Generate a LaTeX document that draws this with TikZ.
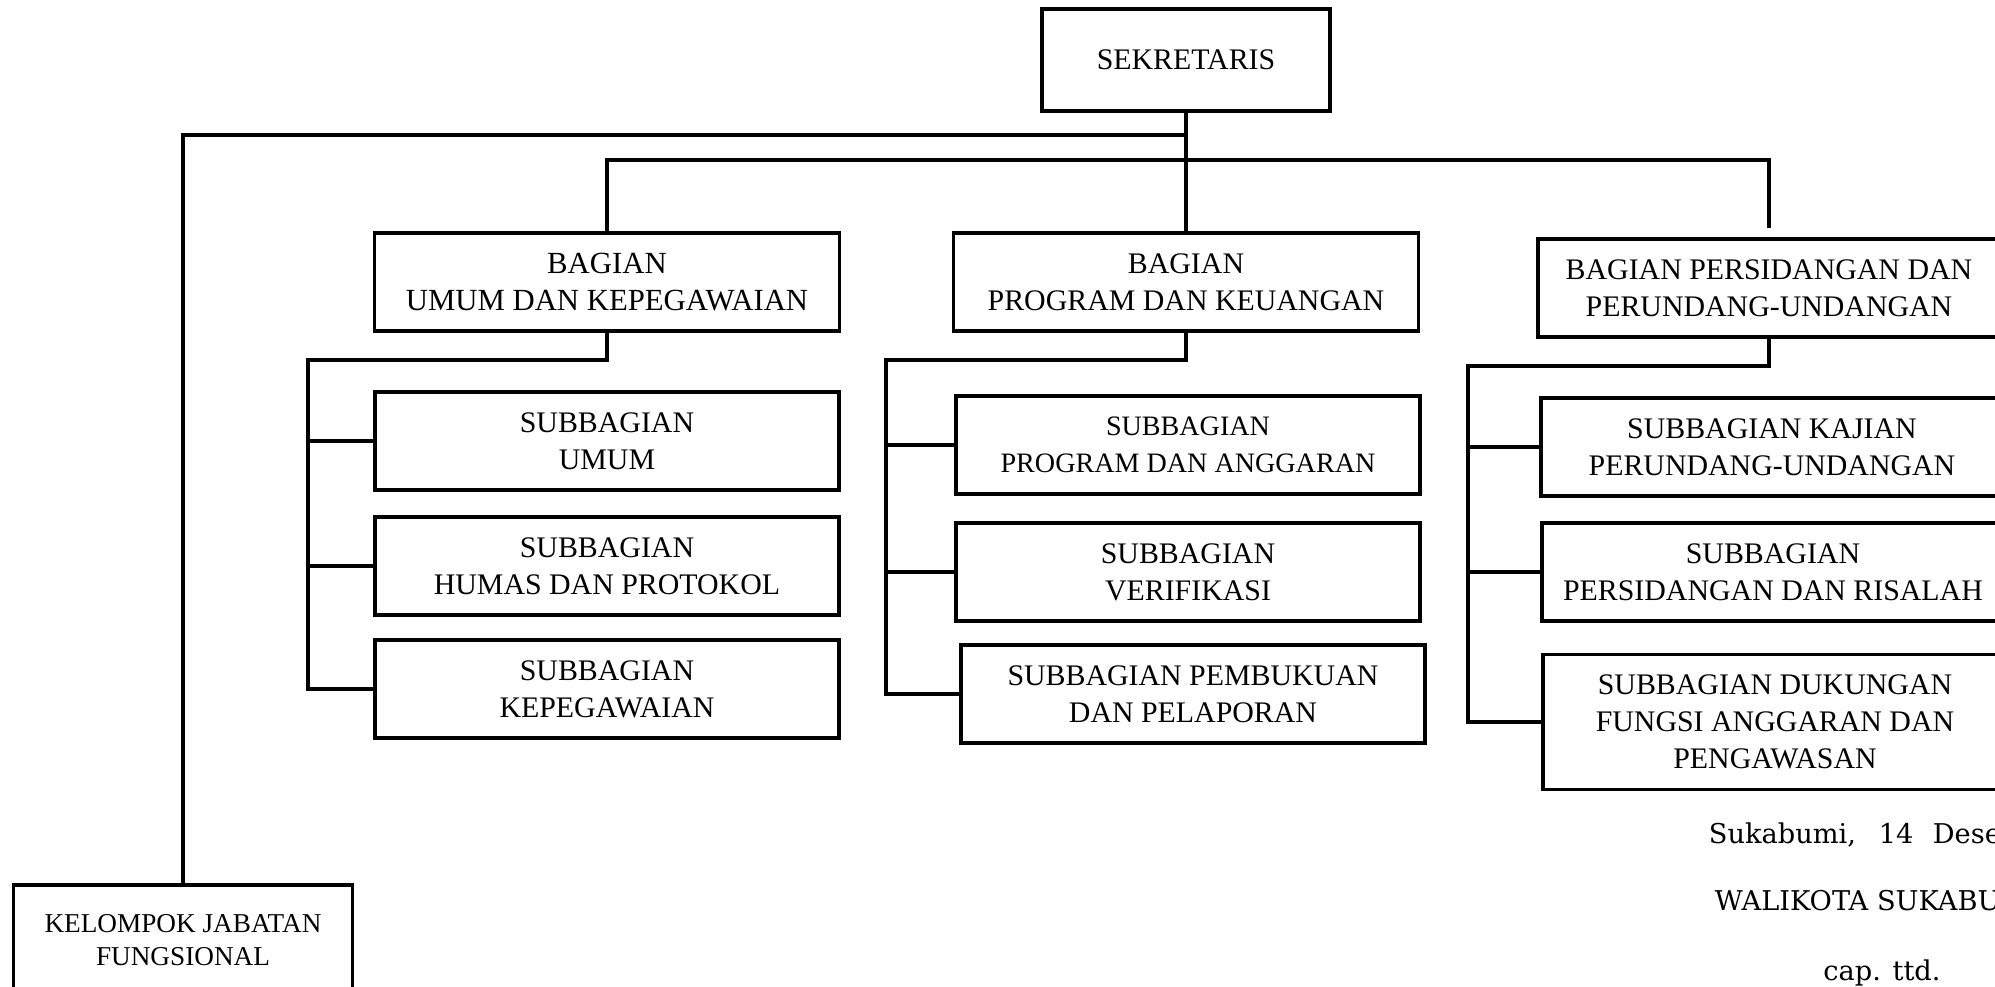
\documentclass[tikz,border=0pt]{standalone}
\usepackage{fontspec}
\setmainfont{Liberation Serif}
\newfontfamily\signfont{DejaVu Serif}
\begin{document}
\begin{tikzpicture}[x=0.02cm, y=-0.02cm, line width=2.2pt,
    box/.style = {draw, align=center, inner sep=0pt, minimum width=9.28cm, minimum height=1.96cm, font=\fontsize{17}{21}\selectfont},
    sign/.style = {inner sep=0pt, font=\signfont\fontsize{15.5}{19}\selectfont}]
    \useasboundingbox (0,0) rectangle (1995,987);
    \clip (0,0) rectangle (1995,987);
    \node[box, minimum width=5.76cm, minimum height=2.04cm] (sek) at (1186,60) {SEKRETARIS};
    % bagian
    \node[box, minimum width=9.3cm, font=\fontsize{17.5}{21}\selectfont] (bumum) at (607,282) {BAGIAN\\UMUM DAN KEPEGAWAIAN};
    \node[box, minimum width=9.3cm] (bprog) at (1186,282) {BAGIAN\\PROGRAM DAN KEUANGAN};
    \node[box, minimum width=9.24cm] (bsid) at (1769,288) {BAGIAN PERSIDANGAN DAN\\PERUNDANG-UNDANGAN};
    % subbagian umum
    \node[box] (sumum) at (607,441) {SUBBAGIAN\\UMUM};
    \node[box] (shumas) at (607,566) {SUBBAGIAN\\HUMAS DAN PROTOKOL};
    \node[box] (skepeg) at (607,689) {SUBBAGIAN\\KEPEGAWAIAN};
    % subbagian program
    \node[box, font=\fontsize{16}{21}\selectfont] (sprog) at (1188,445) {SUBBAGIAN\\PROGRAM DAN ANGGARAN};
    \node[box] (sverif) at (1188,572) {SUBBAGIAN\\VERIFIKASI};
    \node[box] (sbuku) at (1193,694) {SUBBAGIAN PEMBUKUAN\\DAN PELAPORAN};
    % subbagian persidangan
    \node[box, minimum width=9.24cm] (skajian) at (1772,447) {SUBBAGIAN KAJIAN\\PERUNDANG-UNDANGAN};
    \node[box, minimum width=9.24cm] (srisalah) at (1773,572) {SUBBAGIAN\\PERSIDANGAN DAN RISALAH};
    \node[box, minimum width=9.28cm, minimum height=2.7cm] (sdukung) at (1775,722) {SUBBAGIAN DUKUNGAN\\FUNGSI ANGGARAN DAN\\PENGAWASAN};
    \node[box, minimum width=6.78cm, minimum height=2.2cm, font=\fontsize{15.5}{18.5}\selectfont] (kel) at (183,940) {KELOMPOK JABATAN\\FUNGSIONAL};
    % garis
    \coordinate (j1) at (1186,135);
    \coordinate (j2) at (1186,160);
    \draw (sek.south) -- (bprog.north);
    \draw (j1) -| (kel.north);
    \draw (bumum.north) |- (j2) -| ([yshift=5pt]bsid.north);
    \coordinate (tu) at (308,360);
    \coordinate (tp) at (886,360);
    \coordinate (ts) at (1468,366);
    \draw (bumum.south) |- (tu) |- (skepeg.west);
    \draw (bprog.south) |- (tp) |- (sbuku.west);
    \draw (bsid.south) |- (ts) |- (sdukung.west);
    \foreach \s in {sumum, shumas}
        \draw (tu |- \s.west) -- (\s.west);
    \foreach \s in {sprog, sverif}
        \draw (tp |- \s.west) -- (\s.west);
    \foreach \s in {skajian, srisalah}
        \draw (ts |- \s.west) -- (\s.west);
    % tanda tangan
    \node[sign, anchor=base west] (tgl) at (1707,843) {Sukabumi,\hspace{13pt}14\hspace{11pt}Desember};
    \node[sign, anchor=base west] (wali) at (1713,910) {WALIKOTA SUKABUMI};
    \node[sign, anchor=base] (cap) at (1882,980) {cap. ttd.};
\end{tikzpicture}
\end{document}
